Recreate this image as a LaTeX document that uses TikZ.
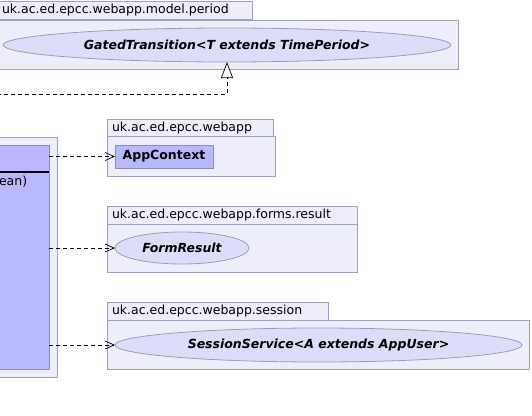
\documentclass[tikz,border=0pt]{standalone}
\usepackage{fontspec}
\setmainfont{DejaVu Sans}
\usetikzlibrary{shapes.geometric,arrows.meta}
\definecolor{pkgfill}{HTML}{EEEEFB}
\definecolor{pkgline}{HTML}{A2A2B6}
\definecolor{clsfill}{HTML}{B8B8FF}
\definecolor{clsline}{HTML}{8C8CB4}
\definecolor{ifill}{HTML}{DDDDFA}
\definecolor{iline}{HTML}{9C9CB8}
\tikzset{
  base/.style={line width=0.8pt, inner sep=0pt, outer sep=0pt, font=\fontsize{12.5}{15}\selectfont},
  pkgtab/.style={base, draw=pkgline, fill=pkgfill, anchor=north west, inner xsep=5pt, align=left, minimum height=18pt},
  pkgbody/.style={base, draw=pkgline, fill=pkgfill, anchor=north west},
  clsbox/.style={base, draw=clsline, fill=clsfill, anchor=north west, font=\fontsize{12.5}{15}\selectfont\bfseries},
  iface/.style={base, ellipse, draw=iline, fill=ifill, font=\fontsize{12.5}{15}\selectfont\bfseries\itshape},
  dep/.style={line width=0.7pt, dash pattern=on 4pt off 3pt, -{Straight Barb[length=9pt,width=8pt]}},
  real/.style={line width=0.7pt, dash pattern=on 4pt off 3pt, -{Triangle[open,length=16pt,width=12pt,fill=white]}}
}
\begin{document}
\begin{tikzpicture}[x=1pt,y=-1pt]
\useasboundingbox (0,0) rectangle (532,415);
\clip (0,0) rectangle (532,415);
% top package
\node[pkgtab, text width=245pt] (ptab) at (-3,1) {uk.ac.ed.epcc.webapp.model.period};
\node[pkgbody, minimum width=461pt, minimum height=49pt] (pbody) at (-3,20) {};
\node[iface, minimum width=448pt, minimum height=34pt] (gt) at (227,45) {GatedTransition<T extends TimePeriod>};
% left package with class
\node[pkgbody, minimum width=67pt, minimum height=240pt] (lbody) at (-10,137) {};
\node[clsbox, minimum width=59pt, minimum height=224pt] (cls) at (-10,145) {};
\draw[line width=2pt] (cls.west |- 0,172) -- (cls.east |- 0,172);
\node[base, anchor=west] (meth) at (-1,182) {ean)};
% AppContext package
\node[pkgtab, text width=156pt] (atab) at (107,119) {uk.ac.ed.epcc.webapp};
\node[pkgbody, minimum width=168pt, minimum height=40pt] (abody) at (107,136) {};
\node[clsbox, minimum width=98pt, minimum height=23pt] (app) at (115,145) {AppContext};
% FormResult package
\node[pkgtab, text width=240pt] (ftab) at (107,206) {uk.ac.ed.epcc.webapp.forms.result};
\node[pkgbody, minimum width=250pt, minimum height=48pt] (fbody) at (107,224) {};
\node[iface, minimum width=134pt, minimum height=32pt] (fr) at (182,248) {FormResult};
% Session package
\node[pkgtab, text width=211pt] (stab) at (107,302) {uk.ac.ed.epcc.webapp.session};
\node[pkgbody, minimum width=422pt, minimum height=49pt] (sbody) at (107,320) {};
\node[iface, minimum width=407pt, minimum height=34pt] (ss) at (318.5,345) {SessionService<A extends AppUser>};
% connectors
\coordinate (r0) at (-10,94);
\draw[real] (r0) -- (gt.south |- r0) -- (gt.south);
\draw[dep] (cls.east |- app.west) -- (app.west);
\draw[dep] (cls.east |- fr.west) -- (fr.west);
\draw[dep] (cls.east |- ss.west) -- (ss.west);
\end{tikzpicture}
\end{document}
